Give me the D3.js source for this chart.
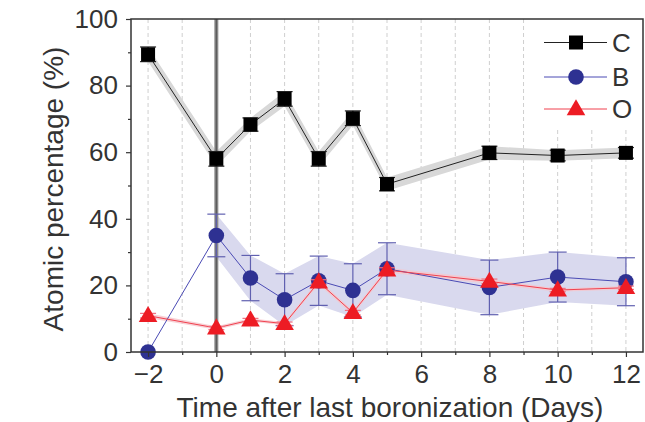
<!DOCTYPE html>
<html>
<head>
<meta charset="utf-8">
<script src="https://cdn.jsdelivr.net/npm/d3@7"></script>
<style>
  body { margin: 0; background: #fff; }
  svg { display: block; }
  text { font-family: "Liberation Sans", Arial, sans-serif; fill: #333; }
</style>
</head>
<body>
<svg id="chart" width="645" height="422"></svg>
<script>
// ---- data ----
const days = [-2, 0, 1, 2, 3, 4, 5, 8, 10, 12];
const cValues = [89.4, 58.0, 68.3, 76.0, 58.0, 70.2, 50.4, 59.8, 59.0, 59.8];
const cErrors = [2.2, 2.2, 2.0, 2.2, 2.2, 2.2, 2.0, 2.0, 1.6, 1.6];
const bValues = [0.0, 35.0, 22.2, 15.7, 21.4, 18.5, 25.0, 19.4, 22.5, 21.1];
const bErrors = [0, 6.4, 6.8, 7.8, 7.4, 8.0, 7.8, 8.2, 7.5, 7.2];
const oValues = [10.9, 7.2, 9.6, 8.5, 21.0, 11.8, 24.6, 21.2, 18.6, 19.3];
const oErrors = [0.7, 0.5, 0.5, 0.5, 0.7, 0.7, 0.7, 0.7, 0.5, 0.5];
const xTicks = [-2, 0, 2, 4, 6, 8, 10, 12];
const xMinorTicks = [-1, 1, 3, 5, 7, 9, 11];
const yTicks = [0, 20, 40, 60, 80, 100];
const yMinorTicks = [10, 30, 50, 70, 90];
const gridDays = [-2, -1, 0, 1, 2, 3, 4, 5, 6, 7, 8, 9, 10, 11, 12];
const seriesNames = ["C", "B", "O"];
const xLabel = "Time after last boronization (Days)";
const yLabel = "Atomic percentage (%)";

// ---- layout ----
const L = 131, R = 643, T = 19, B = 352;
const svg = d3.select("#chart");
const x = d3.scaleLinear().domain([-2.5, 12.5]).range([L, R]);
const y = d3.scaleLinear().domain([0, 100]).range([B, T]);

const toPts = (vals, errs) => days.map((d, i) => ({ d, v: vals[i], e: errs[i] }));
const C = toPts(cValues, cErrors);
const Bs = toPts(bValues, bErrors);
const O = toPts(oValues, oErrors);

// gridlines
svg.append("g").selectAll("line").data(gridDays).join("line")
  .attr("x1", d => x(d)).attr("x2", d => x(d))
  .attr("y1", d => d >= 10 ? 130 : T).attr("y2", B)
  .attr("stroke", "#cfcfcf").attr("stroke-width", 1).attr("stroke-dasharray", "4,3");

// bands
const band = d3.area().x(p => x(p.d)).y0(p => y(p.v - p.e)).y1(p => y(p.v + p.e));
svg.append("path").datum(Bs.filter(p => p.d >= 0)).attr("d", band).attr("fill", "#d9d9ee");
svg.append("path").datum(C).attr("d", band).attr("fill", "#d8d8d8");
svg.append("path").datum(O).attr("d", band).attr("fill", "#f6c6cc").attr("opacity", 0.8);

// thick vertical line at day 0
svg.append("line").attr("x1", x(0)).attr("x2", x(0)).attr("y1", T).attr("y2", B)
  .attr("stroke", "#8a8a8a").attr("stroke-width", 4);
svg.append("line").attr("x1", x(0)).attr("x2", x(0)).attr("y1", T).attr("y2", B)
  .attr("stroke", "#5a5a5a").attr("stroke-width", 1.2);

const line = d3.line().x(p => x(p.d)).y(p => y(p.v));

function errorBars(data, color, cap) {
  const g = svg.append("g").attr("stroke", color).attr("stroke-width", 1.2).attr("fill", "none");
  data.filter(p => p.e > 0).forEach(p => {
    g.append("line").attr("x1", x(p.d)).attr("x2", x(p.d)).attr("y1", y(p.v - p.e)).attr("y2", y(p.v + p.e));
    g.append("line").attr("x1", x(p.d) - cap / 2).attr("x2", x(p.d) + cap / 2).attr("y1", y(p.v - p.e)).attr("y2", y(p.v - p.e));
    g.append("line").attr("x1", x(p.d) - cap / 2).attr("x2", x(p.d) + cap / 2).attr("y1", y(p.v + p.e)).attr("y2", y(p.v + p.e));
  });
}

// B series
svg.append("path").datum(Bs).attr("d", line).attr("fill", "none").attr("stroke", "#4a4ab4").attr("stroke-width", 1);
errorBars(Bs, "#6060b0", 18);
svg.append("g").selectAll("circle").data(Bs).join("circle")
  .attr("cx", p => x(p.d)).attr("cy", p => y(p.v)).attr("r", 7.8).attr("fill", "#2e3192");

// O series
svg.append("path").datum(O).attr("d", line).attr("fill", "none").attr("stroke", "#f0414f").attr("stroke-width", 1);
errorBars(O, "#f07080", 16);
const tri = d3.symbol().type(d3.symbolTriangle).size(150);
svg.append("g").selectAll("path").data(O).join("path")
  .attr("transform", p => `translate(${x(p.d)},${y(p.v) + 1})`).attr("d", tri).attr("fill", "#ed1c24");

// C series
svg.append("path").datum(C).attr("d", line).attr("fill", "none").attr("stroke", "#222").attr("stroke-width", 1);
errorBars(C, "#222", 16);
svg.append("g").selectAll("rect").data(C).join("rect")
  .attr("x", p => x(p.d) - 7).attr("y", p => y(p.v) - 7).attr("width", 14).attr("height", 14).attr("fill", "#000");

// legend background & entries
svg.append("rect").attr("x", 538).attr("y", T + 1).attr("width", R - 539).attr("height", 110).attr("fill", "#fff");
const legY = [42.5, 77, 109];
const legColors = [["#222", "#000"], ["#4a4ab4", "#2e3192"], ["#f0414f", "#ed1c24"]];
seriesNames.forEach((name, i) => {
  const g = svg.append("g");
  g.append("line").attr("x1", 544).attr("x2", 607).attr("y1", legY[i]).attr("y2", legY[i])
    .attr("stroke", legColors[i][0]).attr("stroke-width", 1);
  if (i === 0) g.append("rect").attr("x", 569).attr("y", legY[i] - 7).attr("width", 14).attr("height", 14).attr("fill", legColors[i][1]);
  if (i === 1) g.append("circle").attr("cx", 576).attr("cy", legY[i]).attr("r", 7.8).attr("fill", legColors[i][1]);
  if (i === 2) g.append("path").attr("transform", `translate(576,${legY[i] + 1})`).attr("d", tri).attr("fill", legColors[i][1]);
  g.append("text").attr("x", 612).attr("y", legY[i]).attr("dy", "0.36em").attr("font-size", 26).text(name);
});

// frame
svg.append("rect").attr("x", L).attr("y", T).attr("width", R - L).attr("height", B - T)
  .attr("fill", "none").attr("stroke", "#333").attr("stroke-width", 1.5);

// axes
const xAxis = svg.append("g").attr("transform", `translate(0,${B})`)
  .call(d3.axisBottom(x).tickValues(xTicks).tickSize(5).tickPadding(8).tickFormat(d => d < 0 ? "\u2212" + Math.abs(d) : d));
xAxis.select(".domain").remove();
xAxis.selectAll("line").attr("stroke", "#333").attr("stroke-width", 1.2);
xAxis.selectAll("text").attr("font-size", 26).attr("fill", "#333").attr("font-family", "Liberation Sans, Arial, sans-serif");
const xMinor = svg.append("g").attr("transform", `translate(0,${B})`)
  .call(d3.axisBottom(x).tickValues(xMinorTicks).tickSize(3).tickFormat(""));
xMinor.select(".domain").remove();
xMinor.selectAll("line").attr("stroke", "#333").attr("stroke-width", 1.2);

const yAxis = svg.append("g").attr("transform", `translate(${L},0)`)
  .call(d3.axisLeft(y).tickValues(yTicks).tickSize(5).tickPadding(8));
yAxis.select(".domain").remove();
yAxis.selectAll("line").attr("stroke", "#333").attr("stroke-width", 1.2);
yAxis.selectAll("text").attr("font-size", 26).attr("fill", "#333").attr("font-family", "Liberation Sans, Arial, sans-serif");
const yMinor = svg.append("g").attr("transform", `translate(${L},0)`)
  .call(d3.axisLeft(y).tickValues(yMinorTicks).tickSize(3).tickFormat(""));
yMinor.select(".domain").remove();
yMinor.selectAll("line").attr("stroke", "#333").attr("stroke-width", 1.2);

// axis titles
svg.append("text").attr("x", 390).attr("y", 417).attr("text-anchor", "middle")
  .attr("font-size", 28).text(xLabel);
svg.append("text").attr("transform", `translate(63,189) rotate(-90)`).attr("text-anchor", "middle")
  .attr("font-size", 28).text(yLabel);
</script>
</body>
</html>
